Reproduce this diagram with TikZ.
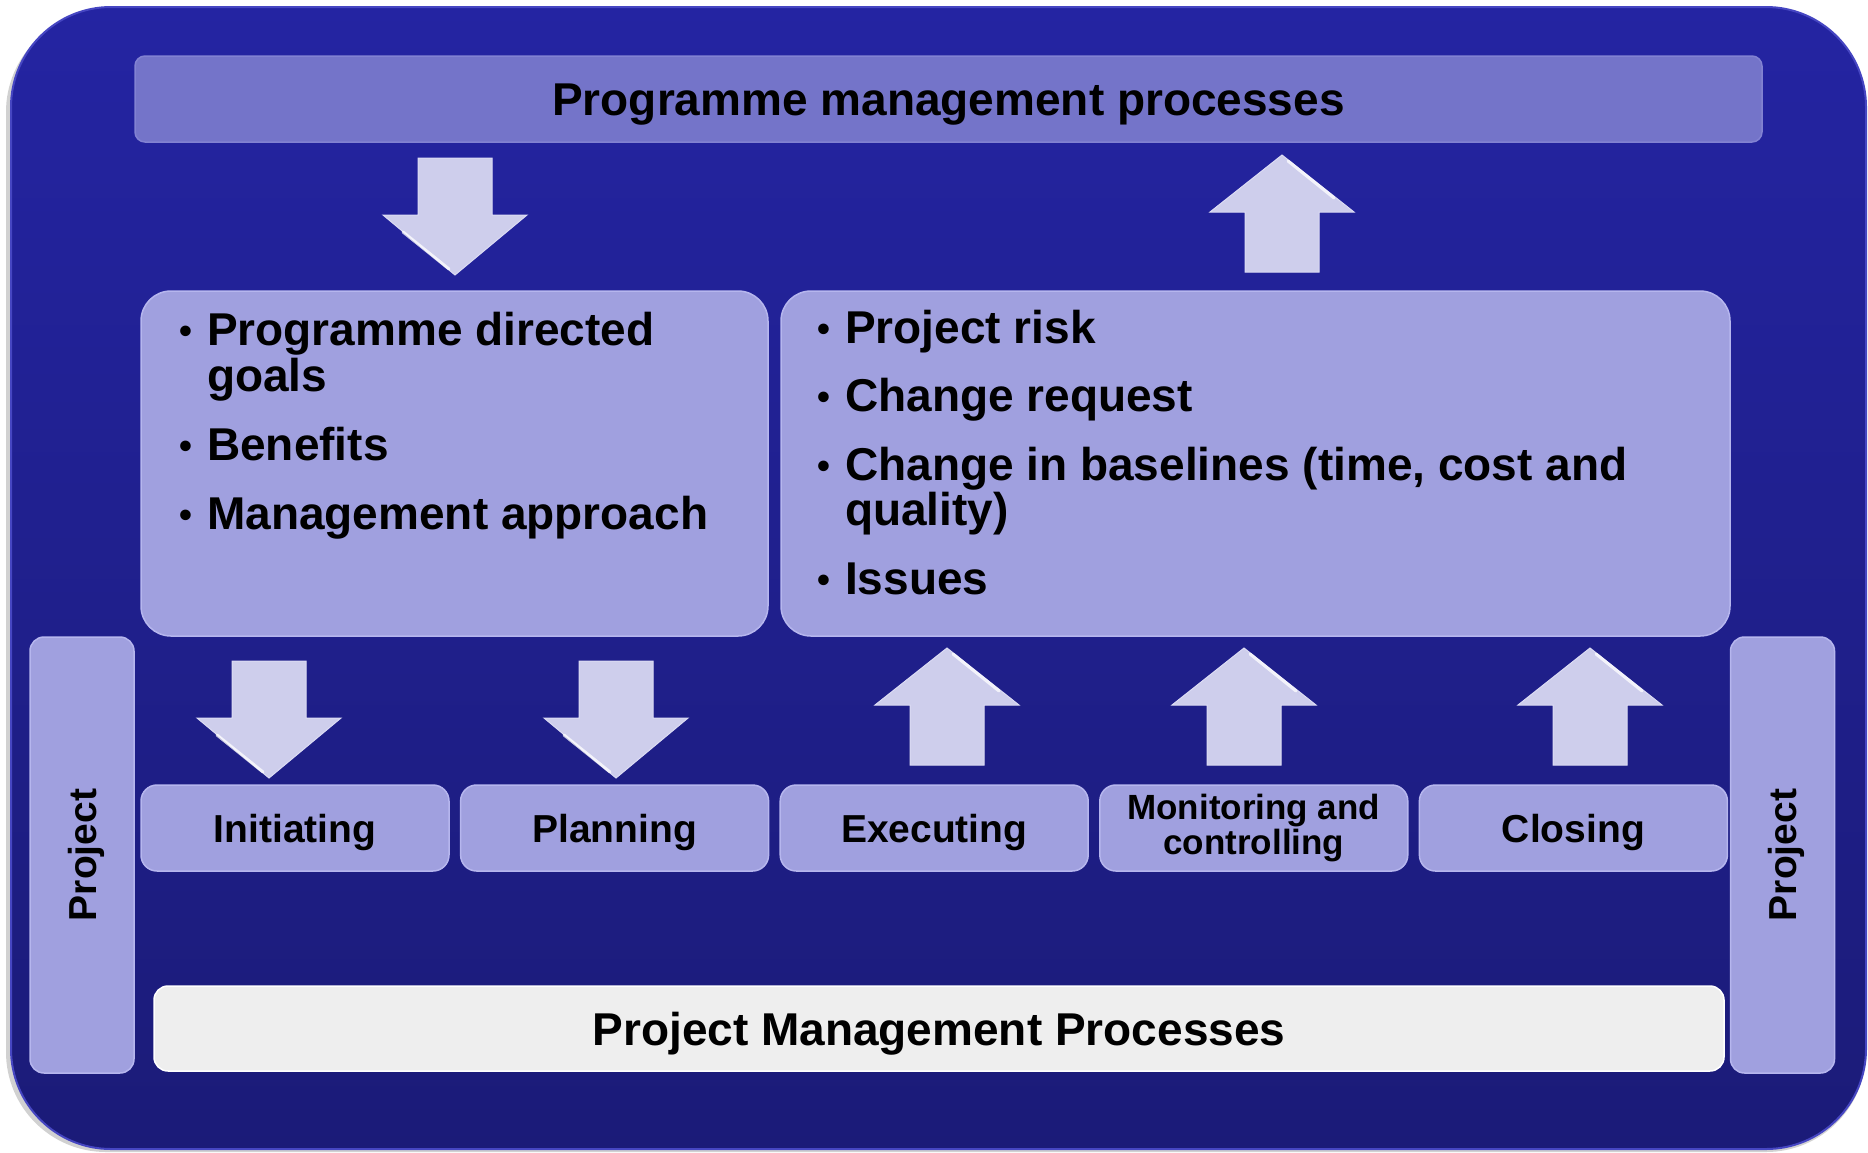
\documentclass[tikz,border=0pt]{standalone}
\usepackage{fontspec}
\setmainfont{Liberation Sans}
\definecolor{bgtop}{HTML}{2424A2}
\definecolor{bgbot}{HTML}{1B1B78}
\definecolor{rim}{HTML}{4646C2}
\definecolor{barfill}{HTML}{7474C9}
\definecolor{baredge}{HTML}{8282D2}
\definecolor{boxfill}{HTML}{A0A0DF}
\definecolor{boxedge}{HTML}{B6B6EE}
\definecolor{arrfill}{HTML}{CECEEC}
\definecolor{arredge}{HTML}{DCDCF4}
\definecolor{pmfill}{HTML}{EEEEEE}
\tikzset{
  boxbase/.style={rectangle, inner sep=0pt, line width=1.5pt},
  progbar/.style={boxbase, fill=barfill, draw=baredge, rounded corners=10pt,
    minimum width=1627pt, minimum height=86pt,
    font=\bfseries\fontsize{46}{48}\selectfont, text height=33pt, text depth=0pt},
  infobox/.style={boxbase, fill=boxfill, draw=boxedge, rounded corners=30pt, minimum height=345pt},
  stagebox/.style={boxbase, fill=boxfill, draw=boxedge, rounded corners=16pt,
    minimum width=308pt, minimum height=86pt, align=center},
  stagetext/.style={font=\bfseries\fontsize{39}{40}\selectfont, text height=28pt, text depth=0pt},
  sidebar/.style={boxbase, fill=boxfill, draw=boxedge, rounded corners=14pt, rotate=90,
    minimum width=436pt, minimum height=104pt,
    font=\bfseries\fontsize{39}{40}\selectfont, text height=28pt, text depth=0pt},
  pmbar/.style={boxbase, fill=pmfill, draw=white, rounded corners=14pt,
    minimum width=1570pt, minimum height=85pt,
    font=\bfseries\fontsize{46}{48}\selectfont, text height=33pt, text depth=0pt},
  bullettext/.style={anchor=base west, inner sep=0pt, font=\bfseries\fontsize{46}{46}\selectfont},
  arrowbody/.style={fill=arrfill, draw=arredge, line width=1pt, line join=miter},
  glint/.style={draw=white, line width=3pt, opacity=0.75, line cap=round},
  downarr/.pic={
    \path[arrowbody] (-37,0) -- (37,0) -- (37,57) -- (72,57) -- (0,117) -- (-72,57) -- (-37,57) -- cycle;
    \draw[glint] (-52,74) -- (-6,111);
  },
  uparr/.pic={
    \path[arrowbody] (0,0) -- (72,57) -- (37,57) -- (37,117) -- (-37,117) -- (-37,57) -- (-72,57) -- cycle;
    \draw[glint] (6,6) -- (52,43);
  },
}
\newcommand{\bul}{\makebox[28pt][l]{\raisebox{2pt}{\scalebox{0.8}{•}}}}
\begin{document}
\begin{tikzpicture}[x=1pt, y=-1pt]
\useasboundingbox (0,0) rectangle (1868,1152);
% frame
\fill[black!18, rounded corners=100pt] (6,12) rectangle (1866,1152);
\node[rectangle, inner sep=0pt, minimum width=1855pt, minimum height=1142pt,
      rounded corners=100pt, top color=bgtop, bottom color=bgbot, draw=rim, line width=2pt]
      (frame) at (938.5,578) {};
% top bar
\node[progbar] (prog) at (948.5,99) {Programme management processes};
% info boxes
\node[infobox, minimum width=627pt] (left) at (454.5,463.5) {};
\node[infobox, minimum width=949pt] (right) at (1255.5,463.5) {};
% bullets left
\node[bullettext] (l1) at (179,345) {\bul Programme directed};
\node[bullettext] (l1b) at (207,391) {goals};
\node[bullettext] (l2) at (179,460) {\bul Benefits};
\node[bullettext] (l3) at (179,529) {\bul Management approach};
% bullets right
\node[bullettext] (r1) at (817,343) {\bul Project risk};
\node[bullettext] (r2) at (817,411) {\bul Change request};
\node[bullettext] (r3) at (817,480) {\bul Change in baselines (time, cost and};
\node[bullettext] (r3b) at (845,525) {quality)};
\node[bullettext] (r4) at (817,594) {\bul Issues};
% side bars
\node[sidebar] (projL) at (82,855) {Project};
\node[sidebar] (projR) at (1782.5,855) {Project};
% stages
\node[stagebox, stagetext] (init) at (295,828) {Initiating};
\node[stagebox, stagetext] (plan) at (614.6,828) {Planning};
\node[stagebox, stagetext] (exec) at (934.2,828) {Executing};
\node[stagebox, font=\bfseries\fontsize{35}{35}\selectfont] (mon) at (1253.8,828) {Monitoring and\\controlling};
\node[stagebox, stagetext] (close) at (1573.4,828) {Closing};
% bottom bar
\node[pmbar] (pm) at (939,1028.5) {Project Management Processes};
% block arrows
\pic (aTop) at (455,158) {downarr};
\pic (aTopUp) at (1282,155) {uparr};
\pic (aInit) at (269,661) {downarr};
\pic (aPlan) at (616,661) {downarr};
\pic (aExec) at (947,648) {uparr};
\pic (aMon) at (1244,648) {uparr};
\pic (aClose) at (1590,648) {uparr};
\end{tikzpicture}
\end{document}
